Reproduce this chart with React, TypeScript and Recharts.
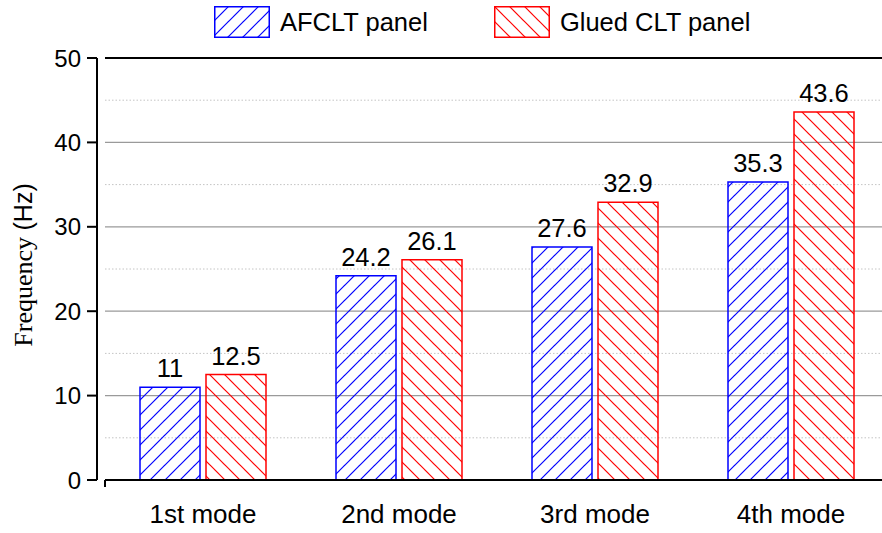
import React from 'react';
import { BarChart, Bar, XAxis, YAxis, CartesianGrid, Legend, LabelList } from 'recharts';

const categories = ['1st mode', '2nd mode', '3rd mode', '4th mode'];
const afcltValues = [11, 24.2, 27.6, 35.3];
const gluedValues = [12.5, 26.1, 32.9, 43.6];
const yTicks = [0, 10, 20, 30, 40, 50];
const majorGrid = [10, 20, 30, 40];
const minorGrid = [5, 15, 25, 35, 45];
const topFrame = [50];
const xBoundaryTicks = [0, 5, 10, 15, 20];
const seriesNames = ['AFCLT panel', 'Glued CLT panel'];

const data = categories.map((mode, i) => ({ mode, afclt: afcltValues[i], glued: gluedValues[i] }));

const SANS = '"Liberation Sans", Arial, sans-serif';
const SERIF = '"Liberation Serif", "Times New Roman", serif';
const BLUE = '#0000ff';
const RED = '#ff0000';
const HATCH_W = 1.2;

const HatchDefs = () => (
  <defs>
    <pattern id="hatch-blue" patternUnits="userSpaceOnUse" width="15" height="15">
      <line x1="0" y1="15" x2="15" y2="0" stroke={BLUE} strokeWidth={HATCH_W} />
      <line x1="-3" y1="3" x2="3" y2="-3" stroke={BLUE} strokeWidth={HATCH_W} />
      <line x1="12" y1="18" x2="18" y2="12" stroke={BLUE} strokeWidth={HATCH_W} />
    </pattern>
    <pattern id="hatch-red" patternUnits="userSpaceOnUse" width="15" height="15">
      <line x1="0" y1="0" x2="15" y2="15" stroke={RED} strokeWidth={HATCH_W} />
      <line x1="-3" y1="12" x2="3" y2="18" stroke={RED} strokeWidth={HATCH_W} />
      <line x1="12" y1="-3" x2="18" y2="3" stroke={RED} strokeWidth={HATCH_W} />
    </pattern>
  </defs>
);

const Swatch = ({ kind }: { kind: 'blue' | 'red' }) => (
  <svg width="56" height="32" style={{ display: 'block' }}>
    <rect x="0.75" y="0.75" width="54.5" height="30.5" fill={`url(#hatch-${kind})`} stroke={kind === 'blue' ? BLUE : RED} strokeWidth="1.5" />
  </svg>
);

const renderLegend = () => (
  <div style={{ height: 44, display: 'flex', alignItems: 'center', paddingLeft: 214, fontFamily: SANS, fontSize: 25.5, color: '#000' }}>
    <Swatch kind="blue" />
    <span style={{ marginLeft: 10, marginRight: 66 }}>{seriesNames[0]}</span>
    <Swatch kind="red" />
    <span style={{ marginLeft: 10 }}>{seriesNames[1]}</span>
  </div>
);

const YLabel = (props: any) => {
  const vb = props.viewBox || { x: 0, y: 0, width: 0, height: 0 };
  const cx = vb.x + 32;
  const cy = vb.y + vb.height / 2 - 4;
  return (
    <text x={cx} y={cy} transform={`rotate(-90 ${cx} ${cy})`} textAnchor="middle" fill="#000">
      <tspan fontFamily={SERIF} fontSize={26}>Frequency </tspan>
      <tspan fontFamily={SANS} fontSize={25}>(Hz)</tspan>
    </text>
  );
};

export default function App() {
  return (
    <div style={{ position: 'absolute', left: 0, top: 0, width: 882, height: 533, overflow: 'hidden', background: '#fff' }}>
      <BarChart
        width={900}
        height={533}
        data={data}
        margin={{ top: 14, right: 11, bottom: 0, left: 0 }}
        barCategoryGap={35}
        barGap={6}
      >
        <HatchDefs />
        <Legend verticalAlign="top" align="left" content={renderLegend} wrapperStyle={{ top: 0, left: 0, width: 900, height: 44 }} />
        <CartesianGrid xAxisId="c" yAxisId="y" vertical={false} horizontalValues={minorGrid} stroke="#c4c4c4" strokeDasharray="1.5 2" />
        <CartesianGrid xAxisId="c" yAxisId="y" vertical={false} horizontalValues={majorGrid} stroke="#9a9a9a" strokeWidth={1.3} />
        <CartesianGrid xAxisId="c" yAxisId="y" vertical={false} horizontalValues={topFrame} stroke="#000" strokeWidth={2} />
        <XAxis
          xAxisId="a"
          type="number"
          domain={[0, 24]}
          ticks={xBoundaryTicks}
          height={1}
          tickFormatter={() => ''}
          axisLine={{ stroke: '#000', strokeWidth: 2 }}
          tickLine={{ stroke: '#000', strokeWidth: 2 }}
          tickSize={7}
        />
        <XAxis
          xAxisId="c"
          dataKey="mode"
          height={52}
          axisLine={false}
          tickLine={false}
          tickSize={0}
          tickMargin={24}
          interval={0}
          tick={{ fontSize: 26, fill: '#000', fontFamily: SANS }}
        />
        <YAxis yAxisId="sp" width={8} domain={[0, 50]} axisLine={false} tickLine={false} tick={false} />
        <YAxis
          yAxisId="y"
          width={97}
          domain={[0, 50]}
          ticks={yTicks}
          interval={0}
          axisLine={{ stroke: '#000', strokeWidth: 2 }}
          tickLine={{ stroke: '#000', strokeWidth: 2 }}
          tickSize={10}
          tickMargin={6}
          tick={{ fontSize: 24, fill: '#000', fontFamily: SANS }}
          label={<YLabel />}
        />
        <Bar xAxisId="c" yAxisId="y" dataKey="afclt" name={seriesNames[0]} fill="url(#hatch-blue)" stroke={BLUE} strokeWidth={1.5} isAnimationActive={false}>
          <LabelList dataKey="afclt" position="top" offset={10} fill="#000" fontSize={25.5} fontFamily={SANS} />
        </Bar>
        <Bar xAxisId="c" yAxisId="y" dataKey="glued" name={seriesNames[1]} fill="url(#hatch-red)" stroke={RED} strokeWidth={1.5} isAnimationActive={false}>
          <LabelList dataKey="glued" position="top" offset={10} fill="#000" fontSize={25.5} fontFamily={SANS} />
        </Bar>
      </BarChart>
    </div>
  );
}
